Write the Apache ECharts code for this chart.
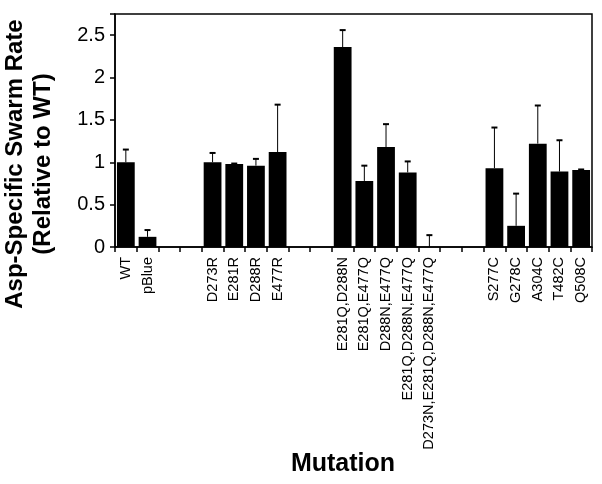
<!DOCTYPE html>
<html>
<head>
<meta charset="utf-8">
<script src="https://cdn.jsdelivr.net/npm/echarts@6/dist/echarts.min.js"></script>
<style>html,body{margin:0;padding:0;background:#fff;}#c{width:602px;height:484px;}</style>
</head>
<body>
<div id="c"></div>
<script>
const categories = ['WT','pBlue','','','D273R','E281R','D288R','E477R','','',
  'E281Q,D288N','E281Q,E477Q','D288N,E477Q','E281Q,D288N,E477Q','D273N,E281Q,D288N,E477Q','','',
  'S277C','G278C','A304C','T482C','Q508C'];
const values = [1.0,0.12,null,null,1.0,0.98,0.96,1.12,null,null,
  2.36,0.78,1.18,0.88,0.0,null,null,
  0.93,0.25,1.22,0.89,0.91];
const errorTop = [1.15,0.20,null,null,1.11,0.985,1.04,1.68,null,null,
  2.56,0.96,1.45,1.01,0.14,null,null,
  1.41,0.63,1.67,1.26,0.915];
const yTicks = [0,0.5,1,1.5,2,2.5];

const chart = echarts.init(document.getElementById('c'), null, {renderer:'canvas'});
const font = 'Liberation Sans, Arial, Helvetica, sans-serif';
const errData = categories.map((c,i)=> values[i]==null ? null : [i, values[i], errorTop[i]]).filter(d=>d);

chart.setOption({
  animation:false,
  grid:{left:115,right:10,top:14,bottom:237,show:true,borderColor:'#000',borderWidth:1.5,containLabel:false},
  xAxis:{
    type:'category', data:categories,
    axisLine:{lineStyle:{color:'#000',width:1.5}},
    axisTick:{show:true,interval:0,length:5,inside:false,lineStyle:{color:'#000',width:1.5}},
    axisLabel:{interval:0,rotate:90,color:'#000',fontSize:14.5,fontFamily:font,margin:10},
    splitLine:{show:false}
  },
  yAxis:{
    type:'value', min:0, max:2.75, interval:0.5,
    axisLine:{show:true,lineStyle:{color:'#000',width:1.5}},
    axisTick:{show:true,length:5,lineStyle:{color:'#000',width:1.5}},
    axisLabel:{color:'#000',fontSize:20,fontFamily:font,margin:10,
      formatter:function(v){return yTicks.indexOf(v)>=0 ? String(v) : '';}},
    splitLine:{show:false}
  },
  graphic:[
    {type:'text',x:15,y:164,rotation:Math.PI/2,
     style:{text:'Asp-Specific Swarm Rate',font:'bold 24px '+font,fill:'#000',textAlign:'center',textVerticalAlign:'middle'}},
    {type:'text',x:43,y:164,rotation:Math.PI/2,
     style:{text:'(Relative to WT)',font:'bold 24px '+font,fill:'#000',textAlign:'center',textVerticalAlign:'middle'}},
    {type:'text',x:343,y:464,
     style:{text:'Mutation',font:'bold 25px '+font,fill:'#000',textAlign:'center',textVerticalAlign:'middle'}}
  ],
  series:[
    {type:'bar',data:values,barCategoryGap:'18%',itemStyle:{color:'#000'}},
    {type:'custom',data:errData,z:3,
     renderItem:function(params,api){
       const x = api.value(0);
       const p0 = api.coord([x, api.value(1)]);
       const p1 = api.coord([x, api.value(2)]);
       const cap = 3;
       return {type:'group',children:[
         {type:'line',shape:{x1:p0[0],y1:p0[1],x2:p1[0],y2:p1[1]},style:{stroke:'#000',lineWidth:1}},
         {type:'line',shape:{x1:p1[0]-cap,y1:p1[1],x2:p1[0]+cap,y2:p1[1]},style:{stroke:'#000',lineWidth:2}}
       ]};
     },
     encode:{x:0,y:[1,2]}}
  ]
});
</script>
</body>
</html>
